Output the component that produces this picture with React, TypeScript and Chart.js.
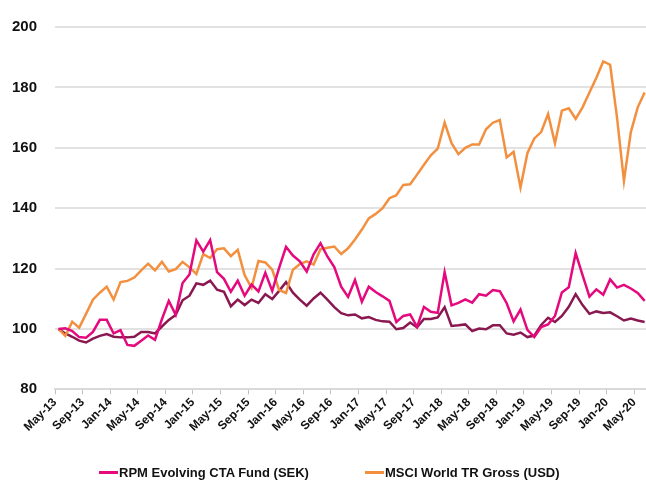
import { useEffect, useRef } from "react";
import { Chart, registerables } from "chart.js";

Chart.register(...registerables);

const categories = [
  "May-13", "Jun-13", "Jul-13", "Aug-13", "Sep-13", "Oct-13", "Nov-13", "Dec-13",
  "Jan-14", "Feb-14", "Mar-14", "Apr-14", "May-14", "Jun-14", "Jul-14", "Aug-14", "Sep-14", "Oct-14", "Nov-14", "Dec-14",
  "Jan-15", "Feb-15", "Mar-15", "Apr-15", "May-15", "Jun-15", "Jul-15", "Aug-15", "Sep-15", "Oct-15", "Nov-15", "Dec-15",
  "Jan-16", "Feb-16", "Mar-16", "Apr-16", "May-16", "Jun-16", "Jul-16", "Aug-16", "Sep-16", "Oct-16", "Nov-16", "Dec-16",
  "Jan-17", "Feb-17", "Mar-17", "Apr-17", "May-17", "Jun-17", "Jul-17", "Aug-17", "Sep-17", "Oct-17", "Nov-17", "Dec-17",
  "Jan-18", "Feb-18", "Mar-18", "Apr-18", "May-18", "Jun-18", "Jul-18", "Aug-18", "Sep-18", "Oct-18", "Nov-18", "Dec-18",
  "Jan-19", "Feb-19", "Mar-19", "Apr-19", "May-19", "Jun-19", "Jul-19", "Aug-19", "Sep-19", "Oct-19", "Nov-19", "Dec-19",
  "Jan-20", "Feb-20", "Mar-20", "Apr-20", "May-20", "Jun-20",
];

const rpmFund = [
  100, 100.2, 99.3, 97.3, 97.1, 99, 103, 103, 98.5, 99.6,
  94.7, 94.4, 96.1, 97.8, 96.4, 103.2, 109.3, 104.7, 115.2, 118,
  129.3, 125.6, 129.4, 118.8, 116.6, 112.3, 116, 111, 114.7, 112.4,
  118.6, 112.6, 120.2, 127.2, 124.3, 122.4, 119, 124.7, 128.4, 124,
  120.5, 114, 110.6, 116.2, 109, 114, 112.2, 110.8, 109.3, 102.3,
  104.3, 104.8, 100.7, 107.3, 105.7, 105.3, 118.8, 107.8, 108.6, 109.8,
  108.7, 111.5, 111, 112.9, 112.5, 108.5, 102.5, 106.4, 99.7, 97.3,
  100.6, 101.5, 104.3, 112.1, 113.8, 125.1, 117.8, 110.7, 113.1, 111.3,
  116.4, 113.7, 114.6, 113.4, 111.9, 109.3,
];

const msciWorld = [
  100, 97.7, 102.4, 100.4, 105, 109.7, 112, 114, 109.7, 115.5,
  115.9, 117, 119.4, 121.6, 119.4, 122.2, 119, 119.8, 122.2, 120.4,
  118.2, 124.8, 123.5, 126.4, 126.7, 124.1, 126.2, 117.8, 113.6, 122.5,
  122, 119.6, 112.9, 111.9, 119.6, 121.5, 122.4, 121.3, 126.4, 126.9,
  127.3, 124.8, 126.7, 129.6, 132.9, 136.6, 138.1, 140, 143.3, 144.3,
  147.7, 147.9, 151.1, 154.4, 157.5, 159.7, 168.3, 161.5, 157.9, 160,
  161.1, 161.1, 166.1, 168.3, 169.2, 156.8, 158.7, 146.8, 158.2, 163.1,
  165.2, 171.2, 161.5, 172.3, 173.1, 169.6, 173.4, 178.3, 183.2, 188.6,
  187.5, 170, 149, 165.2, 173.4, 178.3,
];

const thirdSeries = [
  100, 98.5, 97.4, 96.1, 95.5, 96.8, 97.7, 98.3, 97.4, 97.2,
  97.2, 97.4, 99, 99, 98.5, 100.8, 103, 104.6, 109.5, 111,
  115.1, 114.6, 116, 113, 112.3, 107.5, 109.7, 107.9, 109.7, 108.6,
  111.5, 109.9, 112.6, 115.5, 112, 109.7, 107.7, 110.1, 112, 109.7,
  107.2, 105.2, 104.5, 104.8, 103.5, 103.9, 103, 102.5, 102.4, 99.9,
  100.3, 102.1, 100.5, 103.3, 103.3, 103.8, 107.2, 101, 101.2, 101.5,
  99.3, 100.1, 99.9, 101.2, 101.2, 98.5, 98.1, 98.8, 97.3, 97.8,
  101.3, 103.7, 102.3, 104.3, 107.3, 111.5, 107.9, 105, 105.8, 105.3,
  105.5, 104.2, 102.8, 103.4, 102.8, 102.3,
];

const yTicks = [80, 100, 120, 140, 160, 180, 200];
const xTickEvery = 4;

const PINK = "#e4097d";
const ORANGE = "#f39040";
const MAROON = "#8a1850";
const FONT = "'Liberation Sans', Arial, sans-serif";

const legendItems = [
  { label: "RPM Evolving CTA Fund (SEK)", color: PINK, left: 99 },
  { label: "MSCI World TR Gross (USD)", color: ORANGE, left: 365 },
];

export default function App() {
  const ref = useRef<HTMLCanvasElement | null>(null);

  useEffect(() => {
    document.body.style.overflow = "hidden";
    const canvas = ref.current;
    if (!canvas) return;
    const toPts = (arr: number[]) => arr.map((v, i) => ({ x: i, y: v }));
    const chart = new Chart(canvas, {
      type: "line",
      data: {
        datasets: [
          { label: "RPM Evolving CTA Fund (SEK)", data: toPts(rpmFund), borderColor: PINK, backgroundColor: PINK, borderWidth: 2.5, pointRadius: 0, tension: 0 },
          { label: "MSCI World TR Gross (USD)", data: toPts(msciWorld), borderColor: ORANGE, backgroundColor: ORANGE, borderWidth: 2.5, pointRadius: 0, tension: 0 },
          { label: "Series 3", data: toPts(thirdSeries), borderColor: MAROON, backgroundColor: MAROON, borderWidth: 2.5, pointRadius: 0, tension: 0 },
        ],
      },
      options: {
        animation: false,
        responsive: false,
        events: [],
        layout: { padding: { top: 20, left: 0, right: 0, bottom: 0 } },
        plugins: { legend: { display: false }, tooltip: { enabled: false } },
        scales: {
          x: {
            type: "linear",
            min: -0.5,
            max: 85.2,
            afterBuildTicks: (s: any) => {
              s.ticks = categories
                .map((_, i) => i)
                .filter((i) => i % xTickEvery === 0)
                .map((i) => ({ value: i - 0.5 }));
            },
            afterFit: (s: any) => {
              s.height = 92.7;
            },
            ticks: {
              autoSkip: false,
              minRotation: 45,
              maxRotation: 45,
              padding: 1,
              color: "#111",
              font: { family: FONT, size: 12, weight: "bold" },
              callback: (v: any) => categories[Math.round(Number(v) + 0.5)] ?? "",
            },
            grid: { display: true, drawOnChartArea: false, drawTicks: true, tickLength: 5, color: "#bfbfbf", lineWidth: 1 },
            border: { display: true, color: "#d9d9d9", width: 2 },
          },
          y: {
            min: 80,
            max: 200,
            afterBuildTicks: (s: any) => {
              s.ticks = yTicks.map((v) => ({ value: v }));
            },
            afterFit: (s: any) => {
              s.width = 55;
            },
            ticks: {
              padding: 18,
              color: "#111",
              font: { family: FONT, size: 15, weight: "bold" },
            },
            grid: { color: "#e2e2e2", lineWidth: 2, drawTicks: false },
            border: { display: false },
          },
        },
      },
    });
    return () => chart.destroy();
  }, []);

  return (
    <div style={{ position: "absolute", left: 0, top: 0, width: 646, height: 482, background: "#fff", overflow: "hidden" }}>
      <canvas ref={ref} width={646} height={482} style={{ display: "block", width: 646, height: 482 }} />
      {legendItems.map((it) => (
        <div
          key={it.label}
          style={{
            position: "absolute",
            left: it.left,
            top: 464,
            height: 16,
            display: "flex",
            alignItems: "center",
            fontFamily: FONT,
            fontWeight: "bold",
            fontSize: 13,
            color: "#111",
            whiteSpace: "nowrap",
          }}
        >
          <span style={{ display: "inline-block", width: 19, height: 3, background: it.color, marginRight: 1 }} />
          <span>{it.label}</span>
        </div>
      ))}
    </div>
  );
}
